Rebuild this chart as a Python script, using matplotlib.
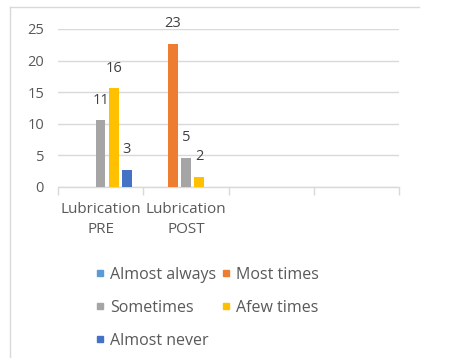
import numpy as np
import matplotlib
matplotlib.use("Agg")
import matplotlib.pyplot as plt
from matplotlib.lines import Line2D

categories = ["Lubrication\nPRE", "Lubrication\nPOST", "", ""]
series_names = ["Almost always", "Most times", "Sometimes", "Afew times", "Almost never"]
almost_always = [np.nan, np.nan, np.nan, np.nan]
most_times = [np.nan, 22.7, np.nan, np.nan]
sometimes = [10.6, 4.6, np.nan, np.nan]
afew_times = [15.6, 1.6, np.nan, np.nan]
almost_never = [2.7, np.nan, np.nan, np.nan]
colors = ["#5B9BD5", "#ED7D31", "#A5A5A5", "#FFC000", "#4472C4"]
yticks = [0, 5, 10, 15, 20, 25]

plt.rcParams['font.family'] = ['Open Sans', 'DejaVu Sans']

fig = plt.figure(figsize=(4.72, 3.58), dpi=100)
ax = fig.add_axes([58/472, 1-187/358, (399-58)/472, (187-29)/358])

data = [almost_always, most_times, sometimes, afew_times, almost_never]
x = np.arange(len(categories))
slot = 0.154
width = 0.113
for i, (vals, c) in enumerate(zip(data, colors)):
    vals = np.array(vals, dtype=float)
    pos = x + (i - 2) * slot
    bars = ax.bar(pos, np.nan_to_num(vals), width=width, color=c, zorder=3)
    labels = ["" if np.isnan(v) else f"{round(v):d}" for v in vals]
    ax.bar_label(bars, labels=labels, padding=9, fontsize=10.5, color="#404040")

ax.set_xlim(-0.5, len(categories) - 0.5)
ax.set_ylim(0, 25)
ax.set_yticks(yticks)
ax.yaxis.grid(True, color="#D9D9D9", linewidth=1, zorder=0)
for s in ["top", "right", "left"]:
    ax.spines[s].set_visible(False)
ax.spines["bottom"].set_color("#D9D9D9")
ax.spines["bottom"].set_linewidth(1)
ax.tick_params(axis="y", length=0, labelsize=10.5, labelcolor="#595959", pad=10)
ax.set_xticks(x)
ax.set_xticklabels(categories)
ax.tick_params(axis="x", length=0, labelsize=11, labelcolor="#595959", pad=11)
ax.set_xticks(np.arange(-0.5, len(categories)), minor=True)
ax.tick_params(axis="x", which="minor", length=6, color="#D9D9D9", width=1)
for lab in ax.get_xticklabels():
    lab.set_linespacing(1.45)

# legend
handles = [Line2D([], [], marker="s", linestyle="none", markersize=5,
                  markerfacecolor=c, markeredgecolor=c) for c in colors]
order = [0, 2, 4, 1, 3]
fig.legend([handles[i] for i in order], [series_names[i] for i in order],
           ncol=2, loc="upper left", bbox_to_anchor=(88/472, 1-259/358),
           frameon=False, fontsize=11.5, labelcolor="#595959",
           handlelength=0.55, handletextpad=0.35, labelspacing=1.05,
           columnspacing=0.35, borderpad=0)

# chart area frame (top and left edges visible)
fig.add_artist(Line2D([10/472, 419/472], [1-7/358, 1-7/358], color="#D9D9D9", linewidth=1))
fig.add_artist(Line2D([10/472, 10/472], [1-7/358, 0], color="#D9D9D9", linewidth=1))

fig.savefig("out.png", dpi=100, facecolor="white")
